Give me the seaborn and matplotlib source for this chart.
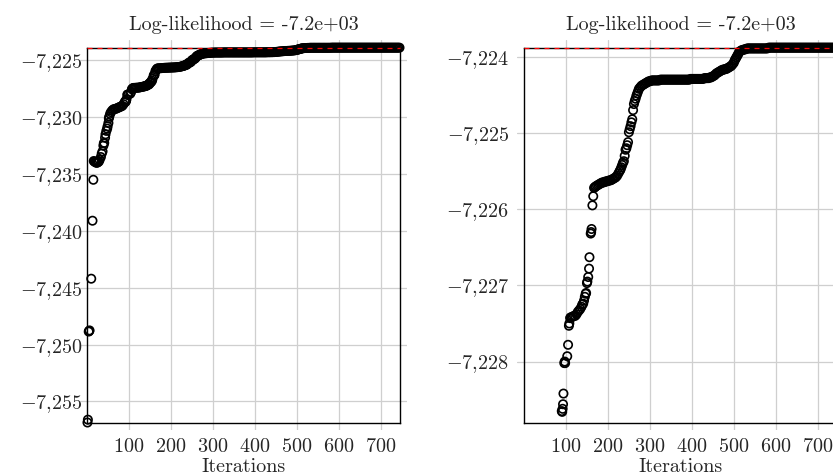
import pandas as pd
import matplotlib
matplotlib.use("Agg")
import matplotlib.pyplot as plt
from matplotlib.ticker import FuncFormatter
import seaborn as sns

# log-likelihood trace (every ~3rd iteration where dense)
iterations = [
    1, 2, 4, 5, 6, 10, 13, 15, 16, 18,
    20, 22, 24, 26, 28, 30, 33, 35, 37, 39,
    40, 41, 43, 44, 46, 48, 49, 51, 52, 53,
    55, 57, 60, 63, 66, 69, 72, 75, 78, 81,
    84, 87, 90, 91, 92, 93, 94, 96, 97, 98,
    103, 105, 107, 108, 110, 111, 113, 116, 119, 122,
    125, 128, 131, 134, 137, 139, 141, 143, 145, 147,
    148, 150, 151, 153, 155, 156, 159, 160, 161, 163,
    165, 167, 169, 171, 174, 177, 180, 183, 186, 189,
    192, 195, 198, 201, 204, 207, 210, 213, 216, 219,
    222, 225, 228, 230, 232, 234, 236, 238, 240, 242,
    244, 246, 248, 250, 252, 254, 256, 258, 260, 262,
    264, 266, 268, 270, 272, 274, 277, 280, 283, 286,
    289, 292, 295, 298, 301, 304, 307, 310, 313, 316,
    319, 322, 325, 328, 331, 334, 337, 340, 343, 346,
    349, 352, 355, 358, 361, 364, 367, 370, 373, 376,
    379, 382, 385, 388, 391, 394, 397, 400, 403, 406,
    409, 412, 415, 418, 421, 424, 427, 430, 433, 436,
    440, 443, 446, 449, 452, 455, 458, 461, 464, 467,
    470, 473, 476, 479, 482, 485, 488, 491, 494, 497,
    500, 502, 504, 506, 508, 510, 512, 514, 517, 520,
    523, 526, 529, 532, 535, 538, 541, 544, 547, 550,
    553, 556, 559, 562, 565, 568, 571, 574, 577, 580,
    583, 586, 589, 592, 595, 598, 601, 604, 607, 610,
    613, 616, 619, 622, 625, 628, 631, 634, 637, 640,
    643, 646, 649, 652, 655, 658, 661, 664, 667, 670,
    673, 676, 679, 682, 685, 688, 691, 694, 697, 700,
    703, 706, 709, 712, 715, 718, 721, 724, 727, 730,
    733, 736, 739, 742, 745,
]
loglik = [
    -7256.85, -7256.6, -7248.85, -7248.8, -7248.75, -7244.2, -7239.1, -7235.5, -7233.85, -7233.9,
    -7233.95, -7234.0, -7234.0, -7233.95, -7233.9, -7233.75, -7233.5, -7233.2, -7233.0, -7232.5,
    -7232.3, -7232.25, -7231.8, -7231.5, -7231.2, -7231.0, -7230.8, -7230.5, -7230.1, -7229.95,
    -7229.7, -7229.55, -7229.4, -7229.3, -7229.28, -7229.25, -7229.2, -7229.15, -7229.1, -7229.05,
    -7229.0, -7228.85, -7228.65, -7228.66, -7228.62, -7228.56, -7228.42, -7228.02, -7228.0, -7228.02,
    -7227.93, -7227.78, -7227.53, -7227.5, -7227.43, -7227.42, -7227.42, -7227.41, -7227.4, -7227.4,
    -7227.38, -7227.35, -7227.33, -7227.31, -7227.28, -7227.25, -7227.24, -7227.2, -7227.15, -7227.11,
    -7227.1, -7226.97, -7226.95, -7226.89, -7226.78, -7226.63, -7226.32, -7226.3, -7226.26, -7225.95,
    -7225.83, -7225.72, -7225.71, -7225.7, -7225.69, -7225.68, -7225.67, -7225.66, -7225.65, -7225.65,
    -7225.64, -7225.64, -7225.63, -7225.63, -7225.62, -7225.62, -7225.61, -7225.6, -7225.59, -7225.58,
    -7225.56, -7225.53, -7225.5, -7225.48, -7225.45, -7225.42, -7225.39, -7225.37, -7225.3, -7225.22,
    -7225.2, -7225.16, -7225.12, -7224.99, -7224.95, -7224.91, -7224.86, -7224.82, -7224.7, -7224.62,
    -7224.58, -7224.55, -7224.51, -7224.48, -7224.45, -7224.42, -7224.4, -7224.38, -7224.37, -7224.36,
    -7224.35, -7224.34, -7224.33, -7224.32, -7224.32, -7224.31, -7224.31, -7224.31, -7224.31, -7224.31,
    -7224.31, -7224.31, -7224.3, -7224.3, -7224.3, -7224.3, -7224.3, -7224.3, -7224.3, -7224.3,
    -7224.3, -7224.3, -7224.3, -7224.3, -7224.3, -7224.3, -7224.3, -7224.3, -7224.3, -7224.3,
    -7224.3, -7224.3, -7224.3, -7224.3, -7224.3, -7224.3, -7224.29, -7224.29, -7224.29, -7224.29,
    -7224.29, -7224.29, -7224.29, -7224.29, -7224.29, -7224.29, -7224.29, -7224.28, -7224.28, -7224.28,
    -7224.28, -7224.27, -7224.27, -7224.26, -7224.25, -7224.24, -7224.22, -7224.21, -7224.2, -7224.19,
    -7224.18, -7224.17, -7224.17, -7224.16, -7224.16, -7224.15, -7224.14, -7224.13, -7224.12, -7224.1,
    -7224.08, -7224.05, -7224.03, -7224.01, -7223.99, -7223.97, -7223.95, -7223.93, -7223.92, -7223.91,
    -7223.91, -7223.9, -7223.9, -7223.89, -7223.89, -7223.89, -7223.89, -7223.89, -7223.89, -7223.89,
    -7223.89, -7223.89, -7223.89, -7223.89, -7223.89, -7223.89, -7223.89, -7223.89, -7223.89, -7223.89,
    -7223.88, -7223.88, -7223.88, -7223.88, -7223.88, -7223.88, -7223.88, -7223.88, -7223.88, -7223.88,
    -7223.88, -7223.88, -7223.88, -7223.88, -7223.88, -7223.88, -7223.88, -7223.88, -7223.88, -7223.88,
    -7223.88, -7223.88, -7223.88, -7223.88, -7223.88, -7223.88, -7223.88, -7223.88, -7223.88, -7223.88,
    -7223.88, -7223.88, -7223.88, -7223.88, -7223.88, -7223.88, -7223.88, -7223.88, -7223.88, -7223.88,
    -7223.88, -7223.88, -7223.88, -7223.88, -7223.88, -7223.88, -7223.88, -7223.88, -7223.88, -7223.88,
    -7223.88, -7223.88, -7223.88, -7223.88, -7223.88,
]

title_text = "Log-likelihood = -7.2e+03"
x_label = "Iterations"
x_ticks = [100, 200, 300, 400, 500, 600, 700]
y_ticks_full = [-7255, -7250, -7245, -7240, -7235, -7230, -7225]
y_ticks_zoom = [-7228, -7227, -7226, -7225, -7224]
zoom_start = 90        # right panel leaves out the first iterations
zoom_floor = -7228.8   # lower edge of the right panel frame

sns.set_theme(style="whitegrid")
plt.rcParams["font.family"] = "serif"
plt.rcParams["font.serif"] = ["cmr10"]
plt.rcParams["mathtext.fontset"] = "cm"
plt.rcParams["axes.formatter.use_mathtext"] = True

df = pd.DataFrame({"Iterations": iterations, "loglik": loglik})


def comma_label(v, _):
    return "$" + f"{v:,.0f}".replace(",", "{,}") + "$"


fig = plt.figure(figsize=(8.33, 4.76), dpi=100)
ax_full = fig.add_axes([0.096, 0.0966, 0.3926, 0.819])
ax_zoom = fig.add_axes([0.6206, 0.0966, 0.3926, 0.819])

panels = [
    (ax_full, df, y_ticks_full, df.loglik.min(), 3.5),
    (ax_zoom, df[df.Iterations >= zoom_start], y_ticks_zoom, zoom_floor, 11),
]

x0, x1 = df.Iterations.min(), df.Iterations.max()
top = df.loglik.max()

for ax, d, yt, floor, ypad in panels:
    sns.scatterplot(data=d, x="Iterations", y="loglik", ax=ax, marker="o", s=36,
                    facecolor="none", edgecolor="black", linewidth=1.2, zorder=3)
    padx = 0.024 * (x1 - x0)
    pady = 0.02 * (top - floor)
    ax.set_xlim(x0 - padx, x1 + padx)
    ax.set_ylim(floor - pady, top + pady)

    # frame sits on the data extent, grid fills the whole axes box
    for side, pos in [("left", x0), ("right", x1), ("bottom", floor), ("top", top)]:
        sp = ax.spines[side]
        sp.set_position(("data", pos))
        sp.set_visible(True)
        sp.set_color("black")
        sp.set_linewidth(1.0)
        if side in ("left", "right"):
            sp.set_bounds(floor, top)
        else:
            sp.set_bounds(x0, x1)
    ax.hlines(top, x0, x1, color="red", linestyles=(0, (4, 4)), lw=0.9, zorder=4)

    ax.set_xticks(x_ticks)
    ax.set_yticks(yt)
    ax.yaxis.set_major_formatter(FuncFormatter(comma_label))
    ax.xaxis.set_major_formatter(FuncFormatter(lambda v, _: f"${v:.0f}$"))
    ax.tick_params(length=0, labelsize=14.5)
    ax.tick_params(axis="x", pad=11)
    ax.tick_params(axis="y", pad=ypad)
    ax.grid(True, color="#cfcfcf", lw=0.9)
    ax.set_axisbelow(True)
    ax.set_xlabel(x_label, fontsize=14.5, labelpad=2)
    ax.set_ylabel("")
    ax.set_title(title_text, fontsize=14.5, pad=7)

fig.savefig("out.png", dpi=100)
